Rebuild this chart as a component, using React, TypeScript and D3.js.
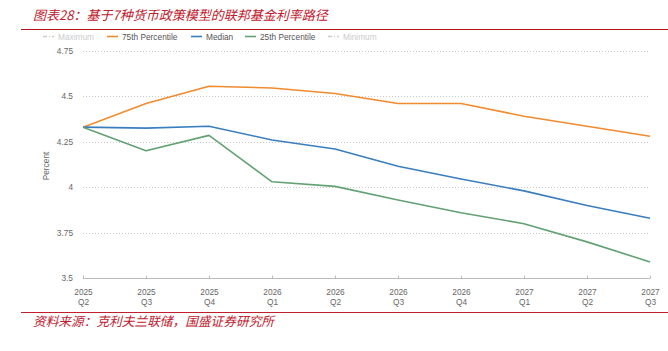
import React, { useRef, useEffect } from "react";
import * as d3 from "d3";

const quarters = [
  "2025 Q2", "2025 Q3", "2025 Q4", "2026 Q1", "2026 Q2",
  "2026 Q3", "2026 Q4", "2027 Q1", "2027 Q2", "2027 Q3",
];
const p75 = [4.33, 4.46, 4.555, 4.545, 4.515, 4.46, 4.46, 4.39, 4.335, 4.28];
const median = [4.33, 4.325, 4.335, 4.26, 4.21, 4.115, 4.045, 3.98, 3.9, 3.83];
const p25 = [4.33, 4.2, 4.285, 4.03, 4.005, 3.93, 3.86, 3.8, 3.7, 3.59];
const yTicks = [3.5, 3.75, 4, 4.25, 4.5, 4.75];
const yTickLabels = ["3.5", "3.75", "4", "4.25", "4.5", "4.75"];

const seriesNames = ["Maximum", "75th Percentile", "Median", "25th Percentile", "Minimum"];
const seriesColors = ["#cccccc", "#f28a2e", "#3a7ebf", "#62a173", "#cccccc"];

const title = "图表28：基于7种货币政策模型的联邦基金利率路径";
const source = "资料来源：克利夫兰联储，国盛证券研究所";

const W = 668;
const H = 351;

const Chart: React.FC = () => {
  const svgRef = useRef<SVGSVGElement | null>(null);

  useEffect(() => {
    const svg = d3.select(svgRef.current);
    svg.selectAll("*").remove();

    const font = "'Liberation Sans', Arial, sans-serif";
    const red = "#c0202e";

    // title + rules
    svg.append("text")
      .attr("x", 33).attr("y", 20)
      .attr("font-family", "'Noto Sans CJK SC', sans-serif")
      .attr("font-style", "italic")
      .attr("font-size", 13)
      .attr("fill", red)
      .text(title);
    svg.append("line").attr("x1", 21).attr("x2", W).attr("y1", 29.5).attr("y2", 29.5)
      .attr("stroke", "#b5121b").attr("stroke-width", 1.2);
    svg.append("line").attr("x1", 21).attr("x2", W).attr("y1", 312.5).attr("y2", 312.5)
      .attr("stroke", "#c0202e").attr("stroke-width", 1.2);
    svg.append("text")
      .attr("x", 33).attr("y", 326)
      .attr("font-family", "'Noto Sans CJK SC', sans-serif")
      .attr("font-style", "italic")
      .attr("font-size", 12.7)
      .attr("fill", red)
      .text(source);

    const x = d3.scalePoint<string>().domain(quarters).range([83, 650]);
    const y = d3.scaleLinear().domain([3.5, 4.75]).range([278.3, 50.7]);

    // gridlines
    const g = svg.append("g");
    g.selectAll(".grid")
      .data(yTicks.slice(1))
      .enter()
      .append("line")
      .attr("x1", 83).attr("x2", 648)
      .attr("y1", (d) => Math.round(y(d)) + 0.5)
      .attr("y2", (d) => Math.round(y(d)) + 0.5)
      .attr("stroke", "#c8c8c8")
      .attr("stroke-dasharray", "1,2");

    // y labels
    g.selectAll(".ylab")
      .data(yTicks)
      .enter()
      .append("text")
      .attr("x", 73)
      .attr("y", (d) => y(d) + 3)
      .attr("text-anchor", "end")
      .attr("font-family", font)
      .attr("font-size", 8.3)
      .attr("fill", "#666")
      .text((d, i) => yTickLabels[i]);

    svg.append("text")
      .attr("transform", "translate(49,166) rotate(-90)")
      .attr("text-anchor", "middle")
      .attr("font-family", font)
      .attr("font-size", 8.3)
      .attr("fill", "#666")
      .text("Percent");

    // x axis
    const base = Math.round(y(3.5)) + 0.5;
    g.append("line").attr("x1", 83).attr("x2", 650).attr("y1", base).attr("y2", base)
      .attr("stroke", "#bbb");
    const xt = g.selectAll(".xt").data(quarters).enter().append("g")
      .attr("transform", (d) => `translate(${Math.round(x(d)!) + 0.5},0)`);
    xt.append("line").attr("y1", base - 3).attr("y2", base).attr("stroke", "#bbb");
    xt.append("text").attr("y", 295).attr("text-anchor", "middle")
      .attr("font-family", font).attr("font-size", 8.3).attr("fill", "#666")
      .text((d) => d.split(" ")[0]);
    xt.append("text").attr("y", 305).attr("text-anchor", "middle")
      .attr("font-family", font).attr("font-size", 8.3).attr("fill", "#666")
      .text((d) => d.split(" ")[1]);

    // lines
    const line = d3.line<number>()
      .x((d, i) => x(quarters[i])!)
      .y((d) => y(d));
    const drawn = [
      { v: p75, c: seriesColors[1] },
      { v: median, c: seriesColors[2] },
      { v: p25, c: seriesColors[3] },
    ];
    drawn.forEach((s) => {
      svg.append("path")
        .attr("d", line(s.v)!)
        .attr("fill", "none")
        .attr("stroke", s.c)
        .attr("stroke-width", 1.6)
        .attr("stroke-linejoin", "round");
    });

    // legend
    const legX = [43, 107, 191, 245, 328];
    const lg = svg.append("g");
    seriesNames.forEach((name, i) => {
      const item = lg.append("g").attr("transform", `translate(${legX[i]},36)`);
      const hidden = i === 0 || i === 4;
      item.append("line")
        .attr("x1", 0).attr("x2", 11).attr("y1", 0.5).attr("y2", 0.5)
        .attr("stroke", seriesColors[i])
        .attr("stroke-width", 1.6)
        .attr("stroke-dasharray", hidden ? "4,2,1,2" : null);
      item.append("text")
        .attr("x", 15)
        .attr("y", 3.5)
        .attr("font-family", font)
        .attr("font-size", 8.3)
        .attr("fill", hidden ? "#cccccc" : "#555")
        .text(name);
    });
  }, []);

  return <svg ref={svgRef} width={W} height={H} style={{ display: "block" }} />;
};

export default function App() {
  return (
    <div style={{ position: "absolute", left: 0, top: 0 }}>
      <Chart />
    </div>
  );
}
